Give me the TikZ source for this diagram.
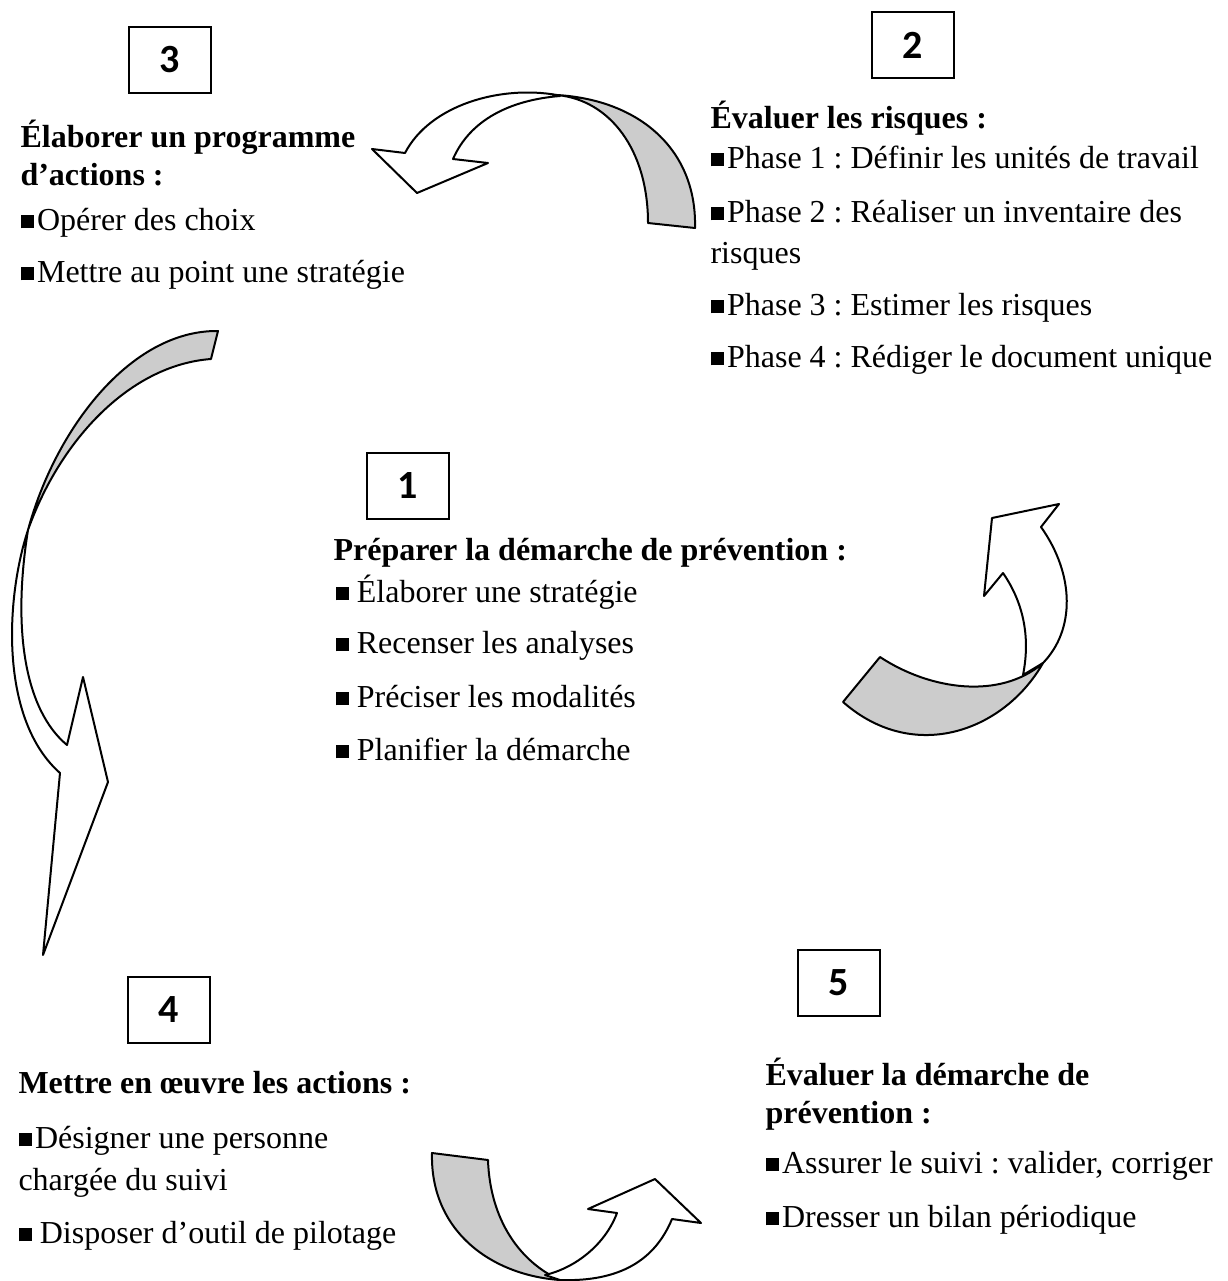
\documentclass[tikz,border=0pt]{standalone}
\usepackage{fontspec}
\setmainfont{Liberation Serif}
\newfontfamily\numfont{Carlito}
\newcommand{\sqb}{\rule[0.6pt]{5pt}{5pt}}
\frenchspacing
\begin{document}
\begin{tikzpicture}[x=0.375pt, y=-0.375pt,
    boxStyle/.style={rectangle, draw, line width=0.75pt, minimum width=30.5pt, minimum height=24.5pt, inner sep=0pt, font=\numfont\bfseries\fontsize{15}{17}\selectfont},
    lineStyle/.style={anchor=base west, inner sep=0pt, font=\fontsize{12}{14}\selectfont},
    headStyle/.style={anchor=base west, inner sep=0pt, font=\bfseries\fontsize{12}{14}\selectfont},
    backStyle/.style={draw, fill=black!20, line width=0.75pt, line join=round},
    frontStyle/.style={draw, fill=white, line width=0.75pt, line join=round}]
    \useasboundingbox (0, 0) rectangle (1227, 1281);

    % numbered boxes
    \node[boxStyle] (box_1) at (408,  486) {1};
    \node[boxStyle] (box_2) at (913,   45) {2};
    \node[boxStyle] (box_3) at (170,   60) {3};
    \node[boxStyle] (box_4) at (169, 1010) {4};
    \node[boxStyle] (box_5) at (839,  983) {5};

    % step 3
    \node[headStyle] (b3_0) at (20, 147) {Élaborer un programme};
    \node[headStyle] (b3_1) at (20, 185) {d’actions :};
    \node[lineStyle] (b3_2) at (20, 230) {\sqb\hspace{1.2pt}Opérer des choix};
    \node[lineStyle] (b3_3) at (20, 282) {\sqb\hspace{1.2pt}Mettre au point une stratégie};

    % step 2
    \node[headStyle] (b2_0) at (710, 128) {Évaluer les risques :};
    \node[lineStyle] (b2_1) at (710, 168) {\sqb\hspace{1.2pt}Phase 1 : Définir les unités de travail};
    \node[lineStyle] (b2_2) at (710, 222) {\sqb\hspace{1.2pt}Phase 2 : Réaliser un inventaire des};
    \node[lineStyle] (b2_3) at (710, 263) {risques};
    \node[lineStyle] (b2_4) at (710, 315) {\sqb\hspace{1.2pt}Phase 3 : Estimer les risques};
    \node[lineStyle] (b2_5) at (710, 367) {\sqb\hspace{1.2pt}Phase 4 : Rédiger le document unique};

    % step 1
    \node[headStyle] (b1_0) at (333, 560) {Préparer la démarche de prévention :};
    \node[lineStyle] (b1_1) at (335, 602) {\sqb\ Élaborer une stratégie};
    \node[lineStyle] (b1_2) at (335, 653) {\sqb\ Recenser les analyses};
    \node[lineStyle] (b1_3) at (335, 707) {\sqb\ Préciser les modalités};
    \node[lineStyle] (b1_4) at (335, 760) {\sqb\ Planifier la démarche};

    % step 4
    \node[headStyle] (b4_0) at (18, 1093) {Mettre en œuvre les actions :};
    \node[lineStyle] (b4_1) at (18, 1148) {\sqb\hspace{1.2pt}Désigner une personne};
    \node[lineStyle] (b4_2) at (18, 1190) {chargée du suivi};
    \node[lineStyle] (b4_3) at (18, 1243) {\sqb\ Disposer d’outil de pilotage};

    % step 5
    \node[headStyle] (b5_0) at (765, 1085) {Évaluer la démarche de};
    \node[headStyle] (b5_1) at (765, 1123) {prévention :};
    \node[lineStyle] (b5_2) at (765, 1173) {\sqb\hspace{1.2pt}Assurer le suivi : valider, corriger};
    \node[lineStyle] (b5_3) at (765, 1227) {\sqb\hspace{1.2pt}Dresser un bilan périodique};

    % curved arrow 2 -> 3
    \draw[backStyle] (648,223) -- (695,228) .. controls (697,150) and (640,100) .. (557,95)
        .. controls (610,100) and (648,150) .. cycle;
    \draw[frontStyle] (557,95) .. controls (500,85) and (430,105) .. (405,153) -- (372,149) -- (417,193)
        -- (488,163) -- (453,159) .. controls (470,120) and (510,100) .. (560,96) -- cycle;

    % curved arrow 1 -> 2
    \draw[frontStyle] (1023,675) .. controls (1030,640) and (1025,605) .. (1003,573) -- (984,596) -- (992,518)
        -- (1059,504) -- (1041,527) .. controls (1075,575) and (1075,630) .. (1043,663) -- cycle;
    \draw[backStyle] (880,657) .. controls (930,690) and (1000,700) .. (1043,663)
        .. controls (1005,730) and (915,765) .. (843,702) -- cycle;

    % curved arrow 3 -> 4
    \draw[backStyle] (218,331) -- (211,359) .. controls (130,365) and (60,440) .. (28,530)
        .. controls (55,430) and (130,330) .. cycle;
    \draw[frontStyle] (28,530) .. controls (5,600) and (0,720) .. (60,773) -- (43,955) -- (108,782)
        -- (83,677) -- (67,745) .. controls (25,710) and (12,630) .. cycle;

    % curved arrow 4 -> 5
    \draw[backStyle] (432,1153) -- (488,1160) .. controls (490,1220) and (520,1262) .. (560,1280)
        .. controls (490,1275) and (430,1230) .. cycle;
    \draw[frontStyle] (545,1275) .. controls (575,1268) and (605,1245) .. (617,1213) -- (588,1209) -- (655,1179)
        -- (701,1223) -- (672,1219) .. controls (655,1260) and (620,1282) .. (560,1280) -- cycle;
\end{tikzpicture}
\end{document}
